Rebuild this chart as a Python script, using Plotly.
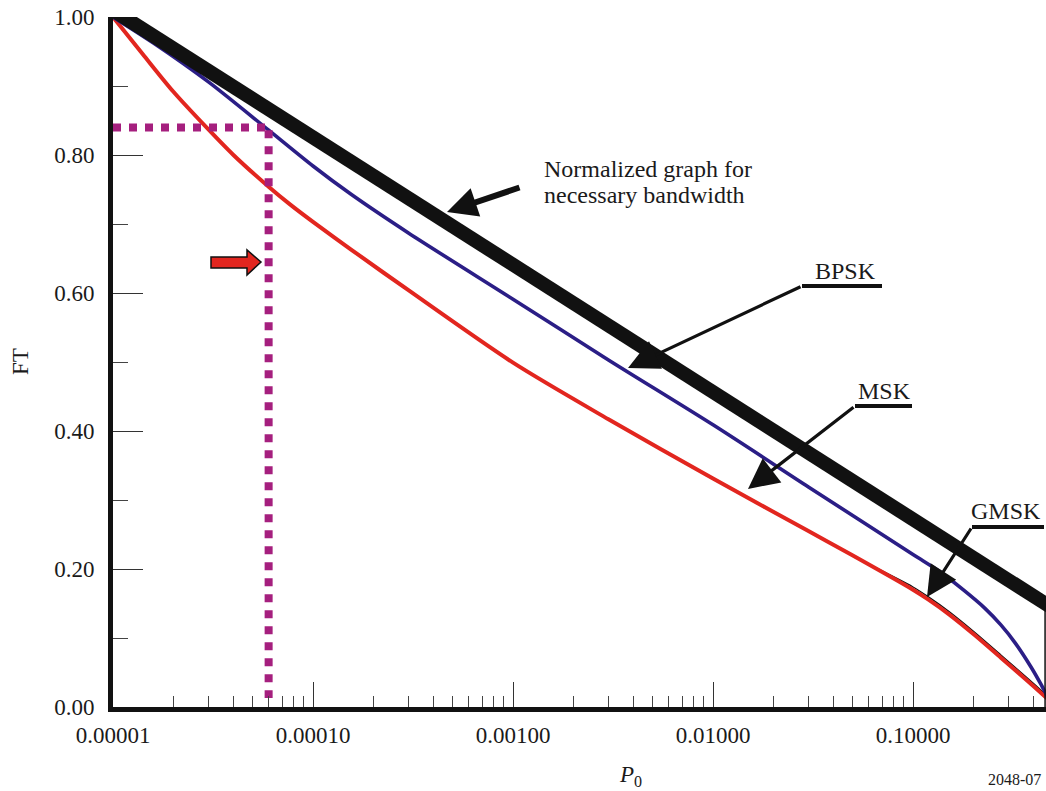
import plotly.graph_objects as go

# ---------------- data ----------------
NORM_P = [1e-5, 0.5]
NORM_FT = [1.01, 0.143]

BPSK_P = [1e-5, 1.6e-5, 3e-5, 6e-5, 1e-4, 1.55e-4, 3e-4, 1e-3, 3e-3,
          0.01, 0.03, 0.1, 0.1365, 0.178, 0.229, 0.275, 0.324, 0.389,
          0.436, 0.468, 0.5]
BPSK_FT = [1.0, 0.962, 0.906, 0.836, 0.784, 0.743, 0.687, 0.591, 0.503,
           0.409, 0.319, 0.221, 0.196, 0.170, 0.143, 0.119, 0.093, 0.058,
           0.033, 0.016, 0.0]

MSK_P = [1e-5, 1.41e-5, 2e-5, 3e-5, 4e-5, 6e-5, 7.7e-5, 1e-4, 1.55e-4, 3e-4,
         1e-3, 3e-3, 0.01, 0.03, 0.049, 0.1, 0.119, 0.152, 0.204, 0.275,
         0.367, 0.46, 0.5]
MSK_FT = [1.0, 0.946, 0.892, 0.837, 0.800, 0.754, 0.728, 0.703, 0.663, 0.604,
          0.499, 0.417, 0.331, 0.255, 0.221, 0.170, 0.156, 0.134, 0.104, 0.0715,
          0.040, 0.0145, 0.005]

GMSK_P = [0.06, 0.1, 0.119, 0.152, 0.204, 0.275, 0.367, 0.46, 0.5]
GMSK_FT = [0.207, 0.174, 0.160, 0.138, 0.108, 0.0755, 0.044, 0.0185, 0.009]

OP_P = [1e-5, 6e-5]        # operating point: P0 = 6e-5, FT = 0.84
OP_FT = [0.84, 0.84]
OP_VP = [6e-5, 6e-5]
OP_VFT = [0.836, 0.013]

X_RANGE_LOG = [-5, -0.335]
Y_TICKS = [0.0, 0.2, 0.4, 0.6, 0.8, 1.0]

# ---------------- style ----------------
FONT = "Liberation Serif, Times New Roman, serif"
FS = 23
AFS = 24
RED = "#e2261f"
BLUE = "#2b1e86"
BLACK = "#111111"
PURPLE = "#a51f7e"

W, H = 1046, 791
L, R, T, B = 113, 0, 17, 84
PW, PH = W - L - R, H - T - B


def pp(px, py):
    """pixel -> paper coordinates"""
    return (px - L) / PW, (H - B - py) / PH


fig = go.Figure()

fig.add_trace(go.Scatter(x=GMSK_P, y=GMSK_FT, mode="lines",
                         line=dict(color=BLACK, width=1.3, shape="spline", smoothing=0.8),
                         name="GMSK", hoverinfo="skip"))
fig.add_trace(go.Scatter(x=MSK_P, y=MSK_FT, mode="lines",
                         line=dict(color=RED, width=4, shape="spline", smoothing=0.8),
                         name="MSK"))
fig.add_trace(go.Scatter(x=BPSK_P, y=BPSK_FT, mode="lines",
                         line=dict(color=BLUE, width=3.6, shape="spline", smoothing=0.8),
                         name="BPSK"))
fig.add_trace(go.Scatter(x=NORM_P, y=NORM_FT, mode="lines",
                         line=dict(color=BLACK, width=14),
                         name="Normalized"))
fig.add_trace(go.Scatter(x=OP_P, y=OP_FT, mode="lines",
                         line=dict(color=PURPLE, width=8, dash="8px,8px"),
                         hoverinfo="skip"))
fig.add_trace(go.Scatter(x=OP_VP, y=OP_VFT, mode="lines",
                         line=dict(color=PURPLE, width=8, dash="8px,8px"),
                         hoverinfo="skip"))

annotations = []


def text(px, py, s, size=AFS, xanchor="center", angle=0):
    x, y = pp(px, py)
    annotations.append(dict(x=x, y=y, xref="paper", yref="paper", text=s,
                            showarrow=False, xanchor=xanchor, yanchor="middle",
                            textangle=angle,
                            font=dict(family=FONT, size=size, color="#1a1a1a")))


def arrow(tail, tip, width, size, head=2):
    x, y = pp(*tip)
    annotations.append(dict(x=x, y=y, xref="paper", yref="paper", text="",
                            showarrow=True, arrowhead=head, arrowsize=size,
                            arrowwidth=width, arrowcolor=BLACK,
                            ax=tail[0] - tip[0], ay=tail[1] - tip[1],
                            axref="pixel", ayref="pixel", standoff=0,
                            startstandoff=0))


# normalized label
text(542, 169, "Normalized graph for", xanchor="left")
text(542, 195, "necessary bandwidth", xanchor="left")
arrow((521, 187), (447, 212), 6, 1.0)

# BPSK
text(845, 271, "BPSK")
arrow((802, 286), (628, 368), 3.2, 1.9)
# MSK
text(884, 391, "MSK")
arrow((855, 406), (748, 489), 3.2, 1.9)
# GMSK
text(1006, 511, "GMSK")
arrow((972, 527), (927, 597), 3.2, 1.9)

# axis titles / footnote
text(20, 362, "FT", size=FS, angle=-90)
text(630, 776, "<i>P</i><sub>0</sub>", size=FS)
text(986, 779, "2048-07", size=16, xanchor="left")

shapes = []


def seg(p0, p1, width):
    x0, y0 = pp(*p0)
    x1, y1 = pp(*p1)
    shapes.append(dict(type="line", xref="paper", yref="paper", x0=x0, y0=y0,
                       x1=x1, y1=y1, line=dict(color=BLACK, width=width)))


seg((802, 286), (882, 286), 4)
seg((855, 406), (912, 406), 4)
seg((972, 527), (1044, 527), 4)

# right edge boundary segment
shapes.append(dict(type="line", xref="paper", yref="y", x0=0.999, x1=0.999,
                   y0=0, y1=0.15, line=dict(color=BLACK, width=1.5)))

# red block arrow
body = [(211, 257), (247, 257), (247, 250), (261, 262), (247, 275), (247, 268), (211, 268)]
pts = [pp(*p) for p in body]
path = "M " + " L ".join(f"{x:.5f},{y:.5f}" for x, y in pts) + " Z"
shapes.append(dict(type="path", xref="paper", yref="paper", path=path,
                   fillcolor=RED, line=dict(color=BLACK, width=1.5)))

fig.update_layout(
    width=W, height=H, autosize=False,
    margin=dict(l=L, r=R, t=T, b=B, pad=0),
    paper_bgcolor="white", plot_bgcolor="white",
    showlegend=False, hovermode=False,
    font=dict(family=FONT, size=FS, color="#1a1a1a"),
    annotations=annotations, shapes=shapes,
    xaxis=dict(type="log", range=X_RANGE_LOG, dtick=1, tick0=0,
               tickformat=".5f", showgrid=False, zeroline=False,
               showline=True, linewidth=5, linecolor=BLACK,
               ticks="inside", ticklen=25, tickwidth=1.2, tickcolor="#333",
               ticklabelstandoff=3,
               minor=dict(dtick="D1", ticks="inside", ticklen=11,
                          tickwidth=1.1, tickcolor="#444", showgrid=False),
               tickfont=dict(family=FONT, size=FS, color="#1a1a1a")),
    yaxis=dict(range=[0, 1.0], tickvals=Y_TICKS, tickformat=".2f",
               showgrid=False, zeroline=False,
               showline=True, linewidth=5, linecolor=BLACK,
               ticks="inside", ticklen=30, tickwidth=1.2, tickcolor="#333",
               ticklabelstandoff=9,
               minor=dict(dtick=0.1, ticks="inside", ticklen=15,
                          tickwidth=1.1, tickcolor="#444", showgrid=False),
               tickfont=dict(family=FONT, size=FS, color="#1a1a1a")),
)

fig.write_html("out.html", config={"displayModeBar": False},
               post_script="document.body.style.margin='0';document.body.style.padding='0';")
